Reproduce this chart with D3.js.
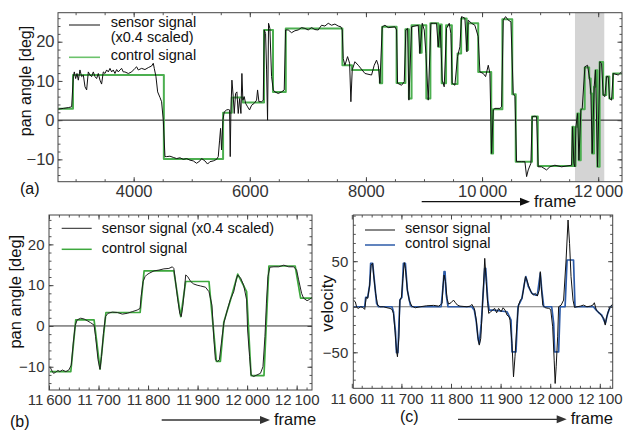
<!DOCTYPE html>
<html lang="en">
<head>
<meta charset="UTF-8">
<title>Pan angle and velocity</title>
<style>
  body, html { margin: 0; padding: 0; background: #fff; }
  #chart { width: 642px; height: 430px; }
  text { font-family: "Liberation Sans", Arial, sans-serif; }
  .tick text { font-family: "Liberation Sans Narrow", "Arial Narrow", "Liberation Sans", sans-serif; fill: #333; }
</style>
<script src="https://d3js.org/d3.v7.min.js"></script>
</head>
<body>
<div id="chart"></div>
<script>
// ---- data: [frame, value] ----
// (a) sensor signal (x0.4 scaled), whole recording
const sensorA = [
  [2700,2.8],[2788,3.0],[2875,3.2],[2932,3.4],[2961,11.1],[2978,12.3],[3001,10.6],[3024,11.9],[3047,10.2],[3075,12.8],
  [3104,11.1],[3133,11.5],[3162,8.5],[3190,7.7],[3219,12.3],[3248,11.5],[3276,11.1],[3305,12.3],[3334,11.1],[3362,10.6],
  [3391,11.9],[3420,10.2],[3448,9.2],[3477,12.3],[3506,11.9],[3535,12.8],[3563,12.3],[3592,13.2],[3621,12.3],[3649,12.8],
  [3678,11.9],[3707,12.9],[3735,12.3],[3764,12.8],[3793,13.2],[3821,12.3],[3850,12.3],[3908,11.9],[3965,12.3],[4022,13.2],
  [4051,13.6],[4080,12.8],[4137,13.2],[4195,12.9],[4252,13.4],[4309,13.8],[4338,14.5],[4355,13.2],[4384,11.1],[4413,7.2],
  [4453,5.8],[4481,4.7],[4510,0],[4539,-9.3],[4568,-9.3],[4625,-9.2],[4682,-9.5],[4740,-9.8],[4797,-9.6],[4855,-10.0],
  [4912,-9.8],[4969,-10.2],[5027,-10.4],[5084,-11.0],[5141,-10.4],[5170,-9.8],[5227,-10.4],[5273,-11.2],[5313,-10.6],
  [5371,-10.4],[5428,-10.0],[5457,-9.3],[5480,-5.1],[5497,-2.1],[5514,-7.6],[5537,0],[5560,2.1],[5600,2.6],[5629,2.7],
  [5652,2.6],[5663,-9.3],[5675,2.6],[5692,10.2],[5715,6.0],[5732,1.7],[5755,6.8],[5778,7.2],[5801,1.7],[5824,5.5],
  [5847,1.7],[5864,11.9],[5881,5.1],[5904,6.0],[5927,4.3],[5962,3.4],[5996,2.6],[6031,3.8],[6077,4.3],[6117,5.1],
  [6134,7.7],[6157,4.7],[6203,4.7],[6232,5.1],[6249,23.0],[6272,22.1],[6289,12.8],[6306,0],[6323,24.7],[6346,23.4],
  [6375,11.1],[6404,7.7],[6432,7.2],[6490,6.8],[6547,7.2],[6593,7.7],[6616,23.0],[6662,23.0],[6719,22.3],[6777,22.8],
  [6834,23.0],[6891,23.6],[6949,23.4],[7006,23.0],[7064,23.6],[7121,23.1],[7178,23.0],[7236,24.2],[7293,24.0],[7351,24.7],
  [7408,24.2],[7466,24.5],[7523,24.0],[7569,23.8],[7592,23.0],[7609,15.7],[7638,14.0],[7684,16.2],[7719,14.5],[7741,4.7],
  [7764,12.8],[7810,14.9],[7868,14.0],[7983,11.9],[8097,11.5],[8143,14.0],[8183,15.3],[8212,14.0],[8241,9.4],[8281,23.8],
  [8327,24.2],[8384,23.6],[8499,23.8],[8528,23.0],[8545,9.4],[8614,8.9],[8660,9.8],[8688,23.0],[8717,23.4],[8740,5.1],
  [8786,23.8],[8901,24.2],[8929,17.0],[8970,24.7],[9004,23.0],[9033,17.0],[9073,5.1],[9119,24.7],[9159,24.7],[9216,24.7],
  [9245,18.7],[9279,24.2],[9314,10.2],[9348,8.5],[9388,23.4],[9435,24.7],[9463,22.1],[9486,9.4],[9532,8.9],[9578,16.2],
  [9618,18.7],[9647,26.4],[9704,26.0],[9739,17.4],[9761,25.5],[9819,24.7],[9876,24.2],[9934,21.3],[9963,12.3],[10020,11.9],
  [10061,11.1],[10107,14.0],[10135,11.9],[10164,-8.5],[10193,2.6],[10221,3.0],[10307,3.0],[10336,3.4],[10365,25.5],
  [10405,26.4],[10451,25.5],[10497,25.1],[10537,6.8],[10566,6.0],[10594,-10.6],[10680,-10.6],[10738,-10.6],[10767,-14.4],
  [10795,-12.7],[10841,-11.0],[10864,0.9],[10910,1.0],[10939,0.9],[10967,-11.9],[11025,-11.9],[11111,-12.7],[11168,-11.9],
  [11254,-11.5],[11369,-11.9],[11541,-11.5],[11558,-1.7],[11581,-11.0],[11599,-11.9],[11616,-1.7],[11645,1.7],[11668,-10.2],
  [11702,2.6],[11725,3.0],[11771,13.6],[11817,14.0],[11851,10.6],[11874,6.8],[11897,-8.5],[11931,8.5],[11954,12.8],
  [11989,-11.9],[12029,14.9],[12058,14.5],[12086,6.4],[12115,6.0],[12144,11.1],[12172,11.1],[12195,5.5],[12230,5.1],
  [12259,11.9],[12345,11.5],[12402,12.3]
];
// (a) control signal, step values
const controlA = [
  [2700,2.9],[2955,11.5],[4520,-9.9],[5540,1.9],[5690,5.8],[5880,4.5],[6245,23.0],[6400,7.2],[6620,23.4],[7595,14.0],
  [7760,12.8],[8240,9.4],[8280,23.8],[8528,9.5],[8680,23.2],[8740,5.5],[8786,24.2],[8929,17.2],[8960,24.2],[9040,5.5],
  [9110,24.7],[9245,18.7],[9275,24.4],[9305,9.4],[9380,24.2],[9480,9.2],[9578,17.0],[9640,25.9],[9735,17.9],[9760,24.7],
  [9934,12.3],[10158,-8.5],[10190,2.8],[10350,25.7],[10520,6.6],[10580,-10.6],[10860,0.9],[10960,-11.7],[11555,-1.7],
  [11575,-11.7],[11610,-1.7],[11640,1.7],[11665,-10.2],[11700,2.8],[11768,13.4],[11845,10.6],[11872,6.8],[11895,-8.5],
  [11928,8.5],[11952,12.7],[11985,-11.9],[12025,14.8],[12085,6.4],[12140,11.1],[12192,5.5],[12255,11.9],[12410,11.9]
];
const zoomRange = [11600, 12105];

// (b) close-up of the grey range
const sensorB = [
  [11602,-10.0],[11605,-10.8],[11609,-11.6],[11613,-11.4],[11618,-10.9],[11622,-11.2],[11627,-10.8],[11634,-11.2],
  [11640,-10.8],[11645,-9.6],[11649,-4.2],[11653,0.2],[11657,1.5],[11664,1.9],[11671,1.7],[11677,1.3],[11684,0.8],
  [11691,0.2],[11694,-2.6],[11699,-8.3],[11703,-10.6],[11706,-7.5],[11710,-1.8],[11714,2.3],[11719,3.1],[11728,3.4],
  [11738,3.3],[11748,2.9],[11758,3.1],[11768,3.5],[11778,3.9],[11784,4.3],[11786,7.2],[11790,10.9],[11794,12.1],
  [11797,12.5],[11802,12.9],[11812,13.5],[11822,13.7],[11832,14.0],[11842,14.1],[11849,14.5],[11852,14.1],[11855,11.3],
  [11860,6.4],[11864,3.1],[11867,2.3],[11870,4.7],[11874,9.6],[11876,12.5],[11880,12.1],[11886,10.9],[11892,10.3],
  [11899,10.0],[11906,9.8],[11916,9.5],[11923,8.4],[11929,5.1],[11933,-3.4],[11936,-8.3],[11940,-8.7],[11944,-8.3],
  [11948,-4.2],[11953,0.7],[11960,3.9],[11966,6.4],[11973,8.4],[11978,11.3],[11981,12.5],[11987,11.7],[11993,10.0],
  [11999,6.4],[12001,-1.0],[12005,-7.5],[12008,-12.0],[12013,-12.4],[12020,-12.0],[12027,-11.6],[12032,-10.0],
  [12036,-2.6],[12039,5.6],[12042,12.1],[12046,14.4],[12054,14.5],[12064,14.5],[12074,14.9],[12084,14.5],[12094,14.5],
  [12100,13.7],[12104,11.3],[12110,8.0],[12114,6.8],[12121,6.2],[12126,6.5],[12131,7.0]
];
const controlB = [
  [11602,-11.2],[11644,-11.2],[11654,1.5],[11691,1.5],[11703,-10.6],[11715,3.3],[11784,3.3],[11792,13.5],[11852,13.5],
  [11866,2.3],[11876,10.9],[11923,10.9],[11938,-8.7],[11946,-8.7],[11953,1.0],[11966,6.2],[11981,12.7],[11999,8.4],
  [12008,-12.2],[12034,-12.2],[12044,14.7],[12097,14.7],[12108,6.8],[12132,6.8]
];

// (c) velocity
const velSensor = [
  [11603,7.3],[11607,5.5],[11610,-0.7],[11613,-1.8],[11618,0],[11622,-0.7],[11626,-2.9],[11629,10.3],[11632,9.2],
  [11636,23.8],[11639,45.8],[11642,47.6],[11644,34.8],[11648,14.7],[11652,1.8],[11657,0],[11664,0],[11671,-1.1],
  [11677,-1.8],[11681,-2.9],[11684,-7.3],[11687,-25.6],[11690,-47.6],[11692,-54.9],[11695,-33.0],[11697,7.3],[11700,10.3],
  [11703,31.1],[11706,48.4],[11708,42.1],[11712,18.3],[11716,6.6],[11721,0.7],[11728,-1.1],[11738,0],[11751,1.1],
  [11765,1.5],[11775,0.7],[11778,1.8],[11782,3.7],[11784,23.8],[11786,34.8],[11789,27.5],[11792,9.2],[11795,2.9],
  [11800,4.4],[11805,7.3],[11809,4.4],[11813,1.8],[11818,0.7],[11832,0],[11839,0.7],[11842,2.6],[11847,-1.8],
  [11851,-14.7],[11854,-33.0],[11857,-42.1],[11860,-34.8],[11863,-3.7],[11866,29.3],[11868,53.1],[11871,27.5],[11874,3.7],
  [11876,-7.3],[11880,-5.5],[11884,-3.7],[11888,-1.8],[11892,-6.6],[11896,-1.8],[11901,-5.5],[11905,-1.1],[11909,-3.7],
  [11913,-9.2],[11917,-11.0],[11919,-14.7],[11923,-40.3],[11926,-76.9],[11929,-54.9],[11933,-18.3],[11936,1.8],[11940,7.3],
  [11943,9.2],[11946,18.3],[11950,33.0],[11953,29.3],[11956,23.8],[11961,16.5],[11966,12.8],[11970,14.7],[11974,11.7],
  [11978,18.3],[11980,38.5],[11982,22.0],[11985,1.8],[11990,-1.1],[11997,-1.8],[12001,-2.9],[12005,-22.0],[12008,-58.6],
  [12010,-84.2],[12012,-65.9],[12015,-33.0],[12017,0],[12022,1.8],[12027,7.3],[12032,51.3],[12036,95.2],[12039,69.6],
  [12042,33.0],[12046,7.3],[12049,-0.7],[12054,0],[12061,0.7],[12067,1.8],[12074,0],[12081,0.7],[12086,1.8],[12089,4.4],
  [12093,-3.7],[12096,-5.5],[12100,-7.3],[12104,-10.3],[12108,-12.8],[12111,-20.1],[12114,-11.0],[12118,-3.7],[12121,0],
  [12126,2.9]
];
const velControl = [
  [11603,0],[11626,0],[11628,10.3],[11632,10.3],[11636,23.8],[11638,47.6],[11642,47.6],[11646,25.6],[11650,3.7],[11654,0],
  [11681,0],[11684,-5.5],[11688,-27.5],[11690,-50.5],[11693,-50.5],[11695,-18.3],[11697,7.3],[11701,10.3],[11704,47.6],
  [11708,47.6],[11712,18.3],[11718,1.8],[11721,0],[11780,0],[11784,22.0],[11786,38.5],[11788,38.5],[11790,14.7],[11794,0],
  [11842,0],[11847,-3.7],[11851,-16.5],[11855,-36.6],[11857,-40.3],[11861,-18.3],[11864,7.3],[11868,42.1],[11870,42.1],
  [11874,7.3],[11877,-3.7],[11886,-3.7],[11913,-5.5],[11918,-11.0],[11921,-14.7],[11923,-49.5],[11931,-49.5],[11935,0],
  [11943,9.2],[11948,25.6],[11951,33.0],[11956,22.0],[11963,14.7],[11970,12.8],[11974,12.8],[11980,36.6],[11983,18.3],
  [11987,0],[12003,0],[12007,-18.3],[12009,-49.5],[12017,-49.5],[12020,0],[12030,0],[12034,51.3],[12047,51.3],[12050,0],
  [12087,0],[12093,-3.7],[12098,-6.6],[12104,-9.2],[12111,-18.3],[12116,-7.3],[12121,0],[12126,0.7]
];

const ticksA = { x: [4000, 6000, 8000, 10000, 12000], y: [-10, 0, 10, 20] };
const ticksB = { x: [11600, 11700, 11800, 11900, 12000, 12100], y: [-10, 0, 10, 20] };
const ticksC = { x: [11600, 11700, 11800, 11900, 12000, 12100], y: [-50, 0, 50] };

// ---- drawing ----
const svg = d3.select("#chart").append("svg")
  .attr("width", 642).attr("height", 430);

const fmt = v => {
  const s = Math.abs(v) >= 10000 ? d3.format("d")(v).replace(/(\d{2})(\d{3})$/, "$1\u2009$2") : d3.format("d")(Math.abs(v));
  return v < 0 ? "\u2212" + s : s;
};

function panel(c) {
  const x = d3.scaleLinear().domain(c.xDomain).range([c.left, c.right]);
  const y = d3.scaleLinear().domain(c.yDomain).range([c.bottom, c.top]);
  const g = svg.append("g");
  g.append("clipPath").attr("id", c.id + "clip").append("rect")
    .attr("x", c.left).attr("y", c.top).attr("width", c.right - c.left).attr("height", c.bottom - c.top);
  const plot = g.append("g").attr("clip-path", `url(#${c.id}clip)`);

  const minorX = d3.range(Math.ceil(c.xDomain[0] / c.xMinor) * c.xMinor, c.xDomain[1], c.xMinor);
  const minorY = d3.range(Math.ceil(c.yDomain[0] / c.yMinor) * c.yMinor, c.yDomain[1], c.yMinor);

  const axes = [
    [d3.axisBottom(x), c.bottom, 0, c.ticks.x, minorX, true],
    [d3.axisTop(x), c.top, 0, c.ticks.x, minorX, false],
    [d3.axisLeft(y), 0, c.left, c.ticks.y, minorY, true],
    [d3.axisRight(y), 0, c.right, c.ticks.y, minorY, false]
  ];
  axes.forEach(([ax, ty, tx, major, minor, lab]) => {
    g.append("g").attr("transform", `translate(${tx},${ty})`)
      .call(ax.tickValues(minor).tickSize(-2.5).tickFormat(""))
      .call(s => s.select(".domain").remove())
      .selectAll("line").attr("stroke", "#555");
    const a = g.append("g").attr("class", "ax").attr("transform", `translate(${tx},${ty})`)
      .call(ax.tickValues(major).tickSize(-4.5).tickPadding(lab ? c.pad : 0).tickFormat(lab ? fmt : ""))
      .call(s => s.select(".domain").remove());
    a.selectAll("line").attr("stroke", "#444");
    a.selectAll("text").style("font-size", c.tickFont + "px");
  });
  g.append("rect").attr("x", c.left).attr("y", c.top)
    .attr("width", c.right - c.left).attr("height", c.bottom - c.top)
    .attr("fill", "none").attr("stroke", "#444").attr("stroke-width", 1);
  return { x, y, g, plot };
}

function series(p, data, color, width, curve) {
  p.plot.append("path").datum(data)
    .attr("fill", "none").attr("stroke", color).attr("stroke-width", width)
    .attr("stroke-linejoin", "round")
    .attr("d", d3.line().x(d => p.x(d[0])).y(d => p.y(d[1])).curve(curve || d3.curveLinear));
}

function zeroLine(p, color) {
  p.plot.append("line").attr("x1", p.x.range()[0]).attr("x2", p.x.range()[1])
    .attr("y1", p.y(0)).attr("y2", p.y(0)).attr("stroke", color).attr("stroke-width", 1);
}

function legend(items, x0, x1, tx) {
  items.forEach(it => {
    svg.append("line").attr("x1", x0).attr("x2", x1).attr("y1", it.ly).attr("y2", it.ly)
      .attr("stroke", it.color).attr("stroke-width", it.w);
    it.lines.forEach((t, i) => svg.append("text").attr("x", tx).attr("y", it.ty + i * 15)
      .style("font-size", "14.5px").attr("fill", "#111").text(t));
  });
}

function arrow(x0, x1, y, color) {
  svg.append("line").attr("x1", x0).attr("x2", x1 - 7).attr("y1", y).attr("y2", y)
    .attr("stroke", color).attr("stroke-width", 1.3);
  svg.append("path").attr("d", `M${x1},${y}L${x1 - 10},${y - 4}L${x1 - 10},${y + 4}Z`).attr("fill", color);
  svg.append("text").attr("x", x1 + 4).attr("y", y + 5).style("font-size", "16.5px").attr("fill", "#111").text("frame");
}

function label(x, y, t, size, rot) {
  svg.append("text").attr("transform", `translate(${x},${y})` + (rot ? " rotate(-90)" : ""))
    .attr("text-anchor", rot ? "middle" : "start").attr("dominant-baseline", rot ? "central" : "auto")
    .style("font-size", size + "px").attr("fill", "#111").text(t);
}

// (a)
const pa = panel({ id: "a", left: 58, right: 622, top: 12.7, bottom: 181.7,
  xDomain: [2697, 12410], yDomain: [-15.7, 27.4], xMinor: 500, yMinor: 2,
  ticks: ticksA, pad: 3.5, tickFont: 16.5 });
pa.plot.insert("rect", ":first-child")
  .attr("x", pa.x(zoomRange[0])).attr("width", pa.x(zoomRange[1]) - pa.x(zoomRange[0]))
  .attr("y", 12.7).attr("height", 169).attr("fill", "#d4d4d4");
zeroLine(pa, "#111");
series(pa, controlA, "#4caf50", 2, d3.curveStepAfter);
series(pa, sensorA, "#111", 1);
legend([{ ly: 25, ty: 27.3, color: "#111", w: 1, lines: ["sensor signal", "(x0.4 scaled)"] },
        { ly: 57.3, ty: 59.5, color: "#6cc36c", w: 1.6, lines: ["control signal"] }], 69, 100, 110.7);
label(25, 81, "pan angle [deg]", 16, true);
label(20, 194, "(a)", 16);
arrow(421.7, 530, 201.7, "#111");

// (b)
const pb = panel({ id: "b", left: 49, right: 312, top: 215, bottom: 390,
  xDomain: [11600, 12131], yDomain: [-15.7, 27.2], xMinor: 20, yMinor: 2,
  ticks: ticksB, pad: 4.5, tickFont: 15 });
zeroLine(pb, "#333");
series(pb, controlB, "#3da83d", 1.7);
series(pb, sensorB, "#222", 1);
legend([{ ly: 228.3, ty: 232.5, color: "#222", w: 1, lines: ["sensor signal (x0.4 scaled)"] },
        { ly: 249.3, ty: 253, color: "#3da83d", w: 1.5, lines: ["control signal"] }], 61.7, 91.7, 101.7);
label(15, 291.7, "pan angle [deg]", 16.5, true);
label(10, 427, "(b)", 16);
arrow(161.7, 270, 420, "#333");

// (c)
const pc = panel({ id: "c", left: 353.3, right: 612.7, top: 215, bottom: 388.3,
  xDomain: [11603, 12126], yDomain: [-89.5, 100.7], xMinor: 20, yMinor: 10,
  ticks: ticksC, pad: 5, tickFont: 15 });
zeroLine(pc, "#777");
series(pc, velControl, "#2d5ba8", 1.7);
series(pc, velSensor, "#111", 1);
legend([{ ly: 230, ty: 232.5, color: "#111", w: 1, lines: ["sensor signal"] },
        { ly: 245, ty: 247.5, color: "#2d5ba8", w: 1.5, lines: ["control signal"] }], 365, 395, 405);
label(327.5, 303.3, "velocity", 17, true);
label(400, 422, "(c)", 16);
arrow(458, 566.7, 419.3, "#333");
</script>
</body>
</html>
